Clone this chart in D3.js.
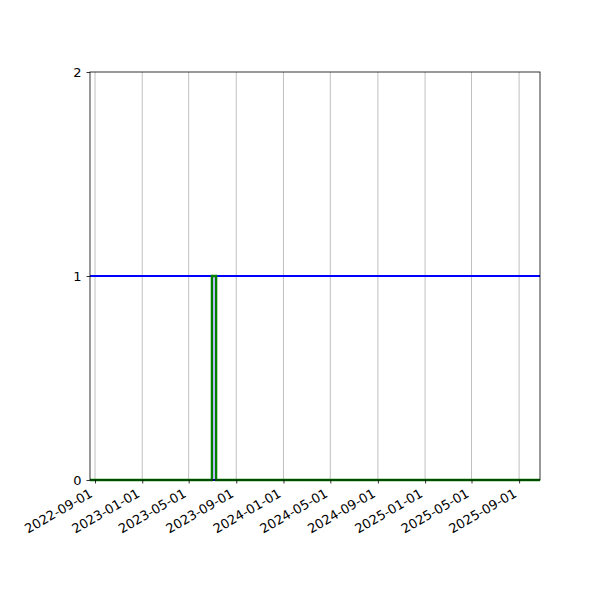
<!DOCTYPE html>
<html>
<head>
<meta charset="utf-8">
<script src="https://cdn.jsdelivr.net/npm/d3@7"></script>
<style>
  body { margin: 0; background: #fff; }
  text { font-family: "DejaVu Sans", sans-serif; }
</style>
</head>
<body>
<div id="chart"></div>
<script>
// series data (step after)
const greenDates = ["2022-08-19", "2023-06-30", "2023-07-11", "2025-10-25"];
const greenValues = [0, 1, 0, 0];
const blueDates = ["2022-08-19", "2023-07-01", "2023-07-10", "2025-10-25"];
const blueValues = [1, 0, 1, 1];

const xDomain = ["2022-08-19", "2025-10-25"];
const xTicks = ["2022-09-01", "2023-01-01", "2023-05-01", "2023-09-01", "2024-01-01",
  "2024-05-01", "2024-09-01", "2025-01-01", "2025-05-01", "2025-09-01"];
const yTicks = [0, 1, 2];

const parse = d3.utcParse("%Y-%m-%d");
const fmt = d3.utcFormat("%Y-%m-%d");

const width = 600, height = 600;
const margin = { left: 90, right: 60, top: 72, bottom: 120 };

const svg = d3.select("#chart")
  .append("svg")
  .attr("width", width)
  .attr("height", height);

const x = d3.scaleUtc()
  .domain(xDomain.map(parse))
  .range([margin.left, width - margin.right]);

const y = d3.scaleLinear()
  .domain([0, 2])
  .range([height - margin.bottom, margin.top]);

// vertical grid
svg.append("g")
  .selectAll("line")
  .data(xTicks.map(parse))
  .enter()
  .append("line")
  .attr("x1", d => x(d))
  .attr("x2", d => x(d))
  .attr("y1", y(0))
  .attr("y2", y(2))
  .attr("stroke", "#b0b0b0")
  .attr("stroke-width", 0.8);

const line = d3.line()
  .x(d => x(d.date))
  .y(d => y(d.value))
  .curve(d3.curveStepAfter);

const blue = blueDates.map((d, i) => ({ date: parse(d), value: blueValues[i] }));
const green = greenDates.map((d, i) => ({ date: parse(d), value: greenValues[i] }));

svg.append("path")
  .datum(blue)
  .attr("d", line)
  .attr("fill", "none")
  .attr("stroke", "blue")
  .attr("stroke-width", 2);

svg.append("path")
  .datum(green)
  .attr("d", line)
  .attr("fill", "none")
  .attr("stroke", "green")
  .attr("stroke-width", 2.3);

// frame
svg.append("rect")
  .attr("x", margin.left)
  .attr("y", margin.top)
  .attr("width", width - margin.left - margin.right)
  .attr("height", height - margin.top - margin.bottom)
  .attr("fill", "none")
  .attr("stroke", "black")
  .attr("stroke-width", 0.8);

// x axis
const xAxis = svg.append("g")
  .attr("transform", `translate(0,${y(0)})`)
  .call(d3.axisBottom(x).tickValues(xTicks.map(parse)).tickFormat(fmt).tickSize(3.5));
xAxis.select(".domain").remove();
xAxis.selectAll(".tick line").attr("stroke", "black").attr("stroke-width", 0.8);
xAxis.selectAll(".tick text")
  .attr("font-size", "13px")
  .attr("fill", "black")
  .attr("text-anchor", "end")
  .attr("y", 0)
  .attr("dy", 0)
  .attr("transform", "translate(-2,16) rotate(-30)");

// y axis
const yAxis = svg.append("g")
  .attr("transform", `translate(${margin.left},0)`)
  .call(d3.axisLeft(y).tickValues(yTicks).tickFormat(d3.format("d")).tickSize(3.5).tickPadding(5));
yAxis.select(".domain").remove();
yAxis.selectAll(".tick line").attr("stroke", "black").attr("stroke-width", 0.8);
yAxis.selectAll(".tick text").attr("font-size", "13px").attr("fill", "black");
</script>
</body>
</html>
